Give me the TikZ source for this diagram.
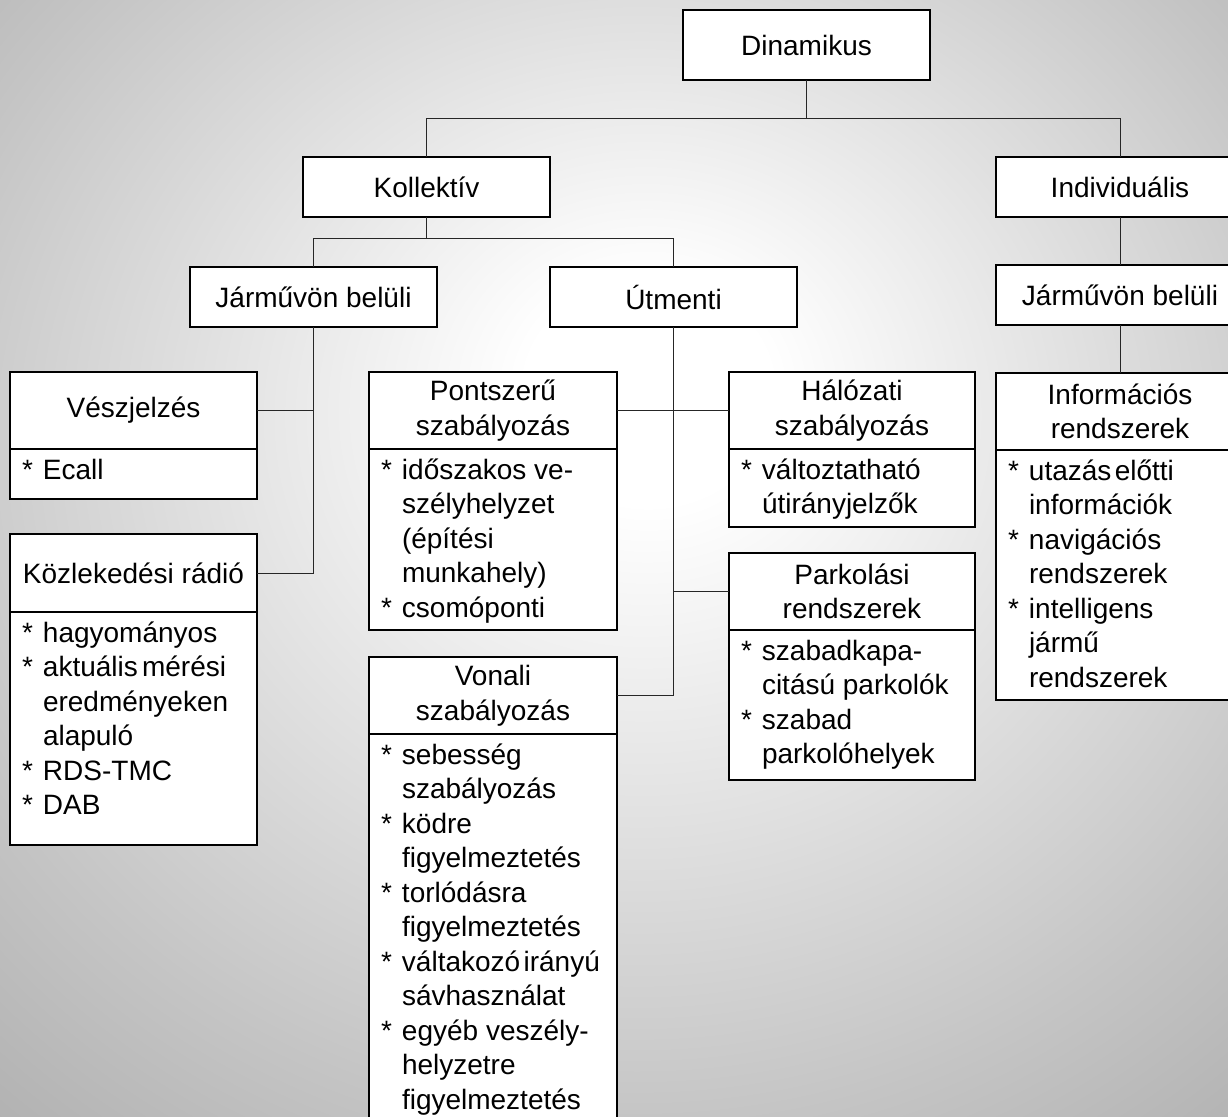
\documentclass[tikz,border=0pt]{standalone}
\usepackage{fontspec}
\setmainfont{Liberation Sans}

% soft grey backdrop, brightest a little above the middle
\definecolor{bgmid}{gray}{0.77}
\definecolor{bgfar}{gray}{0.67}
\pgfdeclareradialshading{bgglow}{\pgfpoint{1.5bp}{8bp}}{%
  color(0bp)=(white); color(5bp)=(white); color(30bp)=(bgmid);
  color(42bp)=(bgfar); color(70bp)=(bgfar)}

% list items: asterisk bullet and continuation indent
\newcommand\itm{\makebox[10.5pt][l]{*}}
\newcommand\ind{\hspace*{10.5pt}}

% a box with a title part and a list part
% #1 name, #2 x, #3 y, #4 width, #5 title height, #6 title, #7 list height, #8 list
\newcommand\listbox[8]{%
  \node[headbox, minimum width=#4, minimum height=#5] (#1) at (#2,#3) {#6};
  \node[bodybox, anchor=north west] (#1-b) at (#1.south west)
    {\parbox[t][#7][t]{\dimexpr#4-12pt\relax}{\raggedright\rule{0pt}{15pt}#8}};
}

\begin{document}
\begin{tikzpicture}[x=0.5pt, y=-0.5pt,
  font=\fontsize{14}{17.25}\selectfont,
  box/.style={draw=black, line width=0.6pt, fill=white, inner sep=0pt, outer sep=0pt},
  headbox/.style={box, align=center, anchor=north west},
  bodybox/.style={box, inner xsep=6pt, inner ysep=0pt},
  link/.style={draw=black!85, line width=0.5pt}]

\shade[shading=bgglow] (0,0) rectangle (1228,1116);
\useasboundingbox (0,0) rectangle (1228,1116);
\clip (0,0) rectangle (1228,1116);

% upper levels
\node[headbox, minimum width=123.5pt, minimum height=35pt] (din) at (683,10) {Dinamikus};
\node[headbox, minimum width=123.5pt, minimum height=30pt] (kol) at (303,157) {Kollektív};
\node[headbox, minimum width=124pt, minimum height=30pt] (ind) at (996,157) {Individuális};
\node[headbox, minimum width=123.5pt, minimum height=30pt] (jl) at (190,267) {Járművön belüli};
\node[headbox, minimum width=123.5pt, minimum height=30pt] (ut) at (550,267) {Útmenti};
\node[headbox, minimum width=124pt, minimum height=30pt] (jr) at (996,265) {Járművön belüli};

% lowest level
\listbox{vesz}{10}{372}{123.5pt}{38.5pt}{Vészjelzés}{25pt}{\itm Ecall}
\listbox{kozl}{10}{534}{123.5pt}{39pt}{Közlekedési rádió}{116.5pt}{%
  \itm hagyományos\\
  \itm aktuális\hspace{0.15em}mérési\\
  \ind eredményeken\\
  \ind alapuló\\
  \itm RDS-TMC\\
  \itm DAB}
\listbox{pont}{369}{372}{124pt}{38.5pt}{Pontszerű\\szabályozás}{90.5pt}{%
  \itm időszakos ve-\\
  \ind szélyhelyzet\\
  \ind (építési\\
  \ind munkahely)\\
  \itm csomóponti}
\listbox{von}{369}{657}{124pt}{38.5pt}{Vonali\\szabályozás}{200pt}{%
  \itm sebesség\\
  \ind szabályozás\\
  \itm ködre\\
  \ind figyelmeztetés\\
  \itm torlódásra\\
  \ind figyelmeztetés\\
  \itm váltakozó\hspace{0.12em}irányú\\
  \ind sávhasználat\\
  \itm egyéb veszély-\\
  \ind helyzetre\\
  \ind figyelmeztetés}
\listbox{hal}{729}{372}{123pt}{38.5pt}{Hálózati\\szabályozás}{39pt}{%
  \itm változtatható\\
  \ind útirányjelzők}
\listbox{park}{729}{553}{123pt}{38.5pt}{Parkolási\\rendszerek}{75pt}{%
  \itm szabadkapa-\\
  \ind citású parkolók\\
  \itm szabad\\
  \ind parkolóhelyek}
\listbox{inf}{996}{373}{124pt}{38.5pt}{Információs\\rendszerek}{125pt}{%
  \itm utazás\hspace{0.12em}előtti\\
  \ind információk\\
  \itm navigációs\\
  \ind rendszerek\\
  \itm intelligens\\
  \ind jármű\\
  \ind rendszerek}

% connectors
\draw[link] (din.south) -- ++(0,38) -| (kol.north);
\draw[link] (din.south) -- ++(0,38) -| (ind.north);
\draw[link] (kol.south) -- ++(0,21) -| (jl.north);
\draw[link] (kol.south) -- ++(0,21) -| (ut.north);
\draw[link] (ind.south) -- (jr.north);
\draw[link] (jr.south) -- (inf.north);
\draw[link] (jl.south) |- (kozl.east);
\draw[link] (jl.south) |- (vesz.east);
\draw[link] (ut.south) |- (von.east);
\draw[link] (ut.south) |- (park.west);
\draw[link] (pont.east) -- (hal.west);
\end{tikzpicture}
\end{document}
